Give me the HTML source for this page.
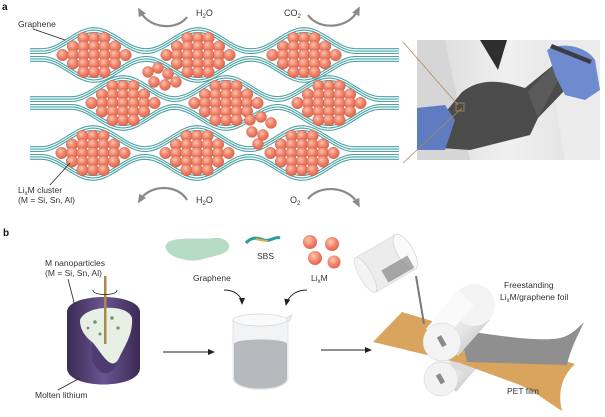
<!DOCTYPE html>
<html><head><meta charset="utf-8"><style>
html,body{margin:0;padding:0;background:#fff}
svg{display:block}
text{font-family:"Liberation Sans",sans-serif;fill:#333}
</style></head><body>
<svg id="s" width="605" height="417" viewBox="0 0 605 417" xmlns="http://www.w3.org/2000/svg">
<defs>
<marker id="ah" markerWidth="8" markerHeight="8" refX="6" refY="4" orient="auto" markerUnits="userSpaceOnUse"><path d="M0,1 L7,4 L0,7 z" fill="#222"/></marker>
<marker id="gh" markerWidth="10" markerHeight="10" refX="5" refY="5" orient="auto" markerUnits="userSpaceOnUse"><path d="M0,1 L9,5 L0,9 z" fill="#8a8a8a"/></marker>
<radialGradient id="ball" cx="0.4" cy="0.35" r="0.7"><stop offset="0" stop-color="#fbc3b0"/><stop offset="0.5" stop-color="#f0836a"/><stop offset="1" stop-color="#d8634b"/></radialGradient>
<radialGradient id="ball2" cx="0.4" cy="0.35" r="0.7"><stop offset="0" stop-color="#fca"/><stop offset="0.6" stop-color="#f07f6a"/><stop offset="1" stop-color="#e06050"/></radialGradient>
<linearGradient id="pot" x1="0" x2="1"><stop offset="0" stop-color="#3a2a55"/><stop offset="0.5" stop-color="#6a5590"/><stop offset="1" stop-color="#3a2a55"/></linearGradient>
<linearGradient id="cyl" x1="0" y1="0" x2="1" y2="1"><stop offset="0" stop-color="#ffffff"/><stop offset="0.6" stop-color="#e6e6e6"/><stop offset="1" stop-color="#b5b5b5"/></linearGradient>
<linearGradient id="coat" x1="0" x2="1"><stop offset="0" stop-color="#d8d8d8"/><stop offset="0.5" stop-color="#f0f0f0"/><stop offset="1" stop-color="#dedede"/></linearGradient>
</defs>
<g id="lines" fill="none" stroke="#4aa3a5" stroke-width="1.1"></g>
<g id="balls"></g>

<text x="2" y="10" font-size="10" font-weight="bold" style="fill:#111">a</text>
<text x="18" y="27" font-size="8.5">Graphene</text>
<line x1="33" y1="29" x2="65" y2="40" stroke="#222" stroke-width="0.8"/>
<text x="18" y="193" font-size="8.5">Li<tspan font-size="6" dy="2">x</tspan><tspan dy="-2">M cluster</tspan></text>
<text x="18" y="203" font-size="8.5">(M = Si, Sn, Al)</text>
<line x1="50" y1="185" x2="70" y2="163" stroke="#222" stroke-width="0.8"/>

<g fill="none" stroke="#8a8a8a" stroke-width="2.2">
<path d="M187,17 C178,30 150,30 140,11" marker-end="url(#gh)"/>
<path d="M308,15 C318,30 348,30 358,10" marker-end="url(#gh)"/>
<path d="M187,200 C178,184 150,184 140,200" marker-end="url(#gh)"/>
<path d="M308,199 C318,185 348,185 358,204" marker-end="url(#gh)"/>
</g>
<text x="196" y="16" font-size="9">H<tspan font-size="6" dy="2">2</tspan><tspan dy="-2">O</tspan></text>
<text x="284" y="16" font-size="9">CO<tspan font-size="6" dy="2">2</tspan></text>
<text x="196" y="203" font-size="9">H<tspan font-size="6" dy="2">2</tspan><tspan dy="-2">O</tspan></text>
<text x="290" y="203" font-size="9">O<tspan font-size="6" dy="2">2</tspan></text>

<!-- photo -->
<rect x="417" y="40" width="183" height="120" fill="url(#coat)"/>
<path d="M417,40 L445,40 L470,160 L417,160 z" fill="#d6d6d6"/>
<path d="M480,40 L507,40 L498,70 z" fill="#2e2e2e"/>
<path d="M545,40 L600,40 L600,160 L565,160 z" fill="#ececec"/>
<path d="M462,92 C480,78 500,80 525,88 L552,66 C560,62 570,75 565,90 L538,118 L530,135 L510,140 L470,150 L440,148 L435,125 Z" fill="#4b4b4b"/>
<path d="M528,92 L552,66 L558,80 L538,118 z" fill="#5a5a5a"/>
<path d="M547,50 C560,42 585,45 595,60 L600,90 L585,100 L565,95 L555,75 Z" fill="#6f8bd0"/>
<path d="M552,44 L592,60 L590,64 L550,48 z" fill="#3c3c44"/>
<path d="M417,108 L445,105 L455,120 L445,150 L417,150 Z" fill="#5f7cc0"/>
<g stroke="#b08a60" stroke-width="0.8" fill="none">
<line x1="403" y1="42" x2="458" y2="105"/>
<line x1="403" y1="163" x2="462" y2="108"/>
<rect x="456" y="103" width="8" height="8"/>
</g>

<!-- panel b -->
<text x="3" y="236" font-size="10" font-weight="bold" style="fill:#111">b</text>
<text x="45" y="266" font-size="8.5">M nanoparticles</text>
<text x="45" y="276" font-size="8.5">(M = Si, Sn, Al)</text>
<line x1="68" y1="279" x2="82" y2="333" stroke="#222" stroke-width="0.8"/>
<path d="M67,312 C67,292 140,292 140,312 L140,368 C140,390 67,390 67,368 Z" fill="url(#pot)"/>
<path d="M80,320 C85,305 128,303 132,318 C133,335 125,345 118,360 C110,372 100,350 92,342 C85,336 80,330 80,320 Z" fill="#e8efe4"/>
<path d="M92,342 C100,350 110,372 118,360 C112,378 100,378 92,360 Z" fill="#4e3c70"/>
<g fill="#6a9a6a"><circle cx="95" cy="322" r="1.8"/><circle cx="112" cy="318" r="1.8"/><circle cx="118" cy="328" r="1.6"/><circle cx="100" cy="334" r="1.5"/><circle cx="88" cy="328" r="1.4"/></g>
<rect x="104" y="276" width="2.5" height="68" fill="#a88a4a"/>
<path d="M93,290 C92,296 118,296 117,290" fill="none" stroke="#222" stroke-width="0.8"/>
<text x="35" y="398" font-size="8.5">Molten lithium</text>
<line x1="58" y1="390" x2="80" y2="378" stroke="#222" stroke-width="0.8"/>
<path d="M168,242 C180,236 200,240 215,238 C225,237 232,244 228,250 C222,256 212,256 200,260 C188,262 175,258 170,254 C165,250 164,246 168,242 Z" fill="#b7dcc5"/>
<text x="193" y="281" font-size="8.5">Graphene</text>
<path d="M246,243 C252,236 258,238 264,240 C270,242 275,236 280,238" fill="none" stroke="#2f9a9a" stroke-width="3"/>
<path d="M256,239 C260,240 264,241 268,241" fill="none" stroke="#d6b34a" stroke-width="2"/>
<text x="257" y="259" font-size="8.5">SBS</text>
<g fill="url(#ball2)"><circle cx="310" cy="242" r="7"/><circle cx="332" cy="244" r="7"/><circle cx="315" cy="258" r="7"/><circle cx="334" cy="262" r="6.5"/></g>
<text x="311" y="281" font-size="8.5">Li<tspan font-size="6" dy="2">x</tspan><tspan dy="-2">M</tspan></text>
<path d="M224,290 C235,290 242,296 242,304" fill="none" stroke="#222" stroke-width="0.9" marker-end="url(#ah)"/>
<path d="M307,290 C296,290 288,296 286,305" fill="none" stroke="#222" stroke-width="0.9" marker-end="url(#ah)"/>
<path d="M233,320 L233,378 C233,393 288,393 288,378 L288,320 Z" fill="#f2f3f4" stroke="#dcdcdc" stroke-width="0.8"/>
<path d="M234,344 C234,338 287,338 287,344 L287,378 C287,392 234,392 234,378 Z" fill="#b6babd"/>
<ellipse cx="260" cy="320" rx="27" ry="6" fill="#fafafa" stroke="#d6d6d6" stroke-width="0.8"/>
<path d="M286,318 L292,315 L289,322" fill="#eee" stroke="#ccc" stroke-width="0.6"/>
<line x1="163" y1="352" x2="214" y2="352" stroke="#222" stroke-width="0.9" marker-end="url(#ah)"/>
<line x1="321" y1="350" x2="371" y2="350" stroke="#222" stroke-width="0.9" marker-end="url(#ah)"/>

<!-- bottom roller -->
<path d="M430,366 L452,343 L478,366 L456,392 Z" fill="url(#cyl)"/>
<circle cx="466" cy="356" r="17" fill="#dcdcdc"/>
<circle cx="441" cy="379" r="17" fill="#f2f2f2" stroke="#d0d0d0" stroke-width="0.5"/>
<rect x="438" y="374" width="5" height="10" fill="#8a8a8a" transform="rotate(-30 440 379)"/>
<!-- PET film -->
<path d="M373,342 L402,312 L575,364 C560,378 558,395 562,411 C545,400 535,392 520,385 L460,363 Z" fill="#d9a45d"/>
<!-- foil -->
<path d="M460,330 C500,336 540,342 560,338 C570,336 578,328 584,322 C578,335 570,350 567,365 L467,362 Z" fill="#8f8f8f"/>
<!-- top roller -->
<path d="M426,329 L458,290 L490,320 L458,356 Z" fill="url(#cyl)"/>
<circle cx="474" cy="305" r="21" fill="#f4f4f4"/>
<path d="M426,329 L458,290 L474,305 L442,342 Z" fill="#fafafa"/>
<circle cx="442" cy="342" r="19" fill="#f3f3f3" stroke="#cfcfcf" stroke-width="0.5"/>
<rect x="439" y="336" width="5" height="11" fill="#8a8a8a" transform="rotate(-30 441 341)"/>
<!-- stream & cup -->
<line x1="416" y1="276" x2="424" y2="324" stroke="#777" stroke-width="2"/>
<g transform="translate(388,262) rotate(-30)">
<rect x="-26" y="-20" width="46" height="40" fill="#ececec" stroke="#d4d4d4" stroke-width="0.6"/>
<ellipse cx="-26" cy="0" rx="6" ry="20" fill="#f4f4f4" stroke="#ccc" stroke-width="0.5"/>
<ellipse cx="20" cy="0" rx="8" ry="20" fill="#fafafa" stroke="#ccc" stroke-width="0.6"/>
<path d="M-10,4 L20,4 L20,18 L-10,18 Z" fill="#8e8e8e" opacity="0.75"/>
</g>
<text x="504" y="288" font-size="8.5">Freestanding</text>
<text x="500" y="300" font-size="8.5">Li<tspan font-size="6" dy="2">x</tspan><tspan dy="-2">M/graphene foil</tspan></text>
<text x="507" y="394" font-size="8.5">PET film</text>
</svg>
<script>
var NS="http://www.w3.org/2000/svg";
var rows=[{cy:55,cs:[94,198,304],hh:21},{cy:103,cs:[123,226,329],hh:21},{cy:153,cs:[93,197,302],hh:21}];
var hw=42,L=document.getElementById('lines'),B=document.getElementById('balls');
rows.forEach(function(r){
 for(var sgn=-1;sgn<=1;sgn+=2){
  for(var k=0;k<3;k++){
   var d="";
   for(var x=30;x<=400;x+=3){
    var b=0;
    r.cs.forEach(function(c){var t=(x-c)/(hw+10);if(Math.abs(t)<1){var v=Math.cos(t*Math.PI/2);b=Math.max(b,v*v);}});
    var y=r.cy+sgn*(1.5+k*2.4+b*(r.hh));
    d+=(x==30?"M":"L")+x+","+y.toFixed(1);
   }
   var p=document.createElementNS(NS,"path");p.setAttribute("d",d);L.appendChild(p);
  }
 }
});
function ball(x,y,r){var c=document.createElementNS(NS,"circle");c.setAttribute("cx",x);c.setAttribute("cy",y);c.setAttribute("r",r);c.setAttribute("fill","url(#ball)");c.setAttribute("stroke","#c85a45");c.setAttribute("stroke-width","0.4");B.appendChild(c);}
rows.forEach(function(r){r.cs.forEach(function(c){
 var spec=[[-2,3],[-1,5],[0,7],[1,5],[2,3]];
 spec.forEach(function(s){var j=s[0],n=s[1];for(var i=0;i<n;i++){ball(c+(i-(n-1)/2)*10.5,r.cy+j*8.5,5.8);} });
});});
[[148,72],[158,68],[168,74],[154,82],[165,85],[176,82]].forEach(function(p){ball(p[0],p[1],5.5);});
[[250,120],[261,117],[271,123],[252,132],[263,135],[258,144]].forEach(function(p){ball(p[0],p[1],5.5);});
</script>
</body></html>
